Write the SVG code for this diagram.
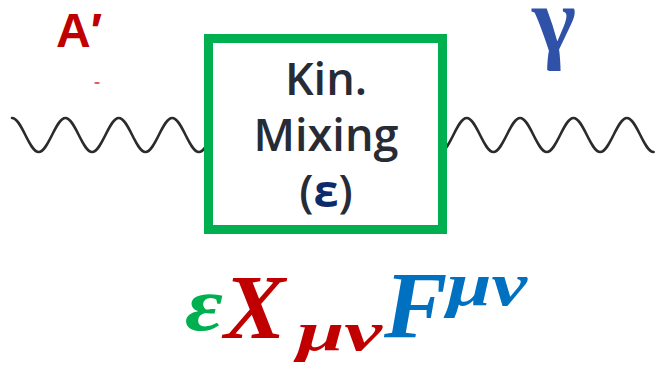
<svg xmlns="http://www.w3.org/2000/svg" width="656" height="370" viewBox="0 0 656 370">
<style>
.wave{fill:none;stroke:#2b2b2b;stroke-width:2.6;stroke-linecap:round}
.box{fill:#ffffff;stroke:#00b050;stroke-width:9}
.lbl{font-family:"Open Sans","Liberation Sans",sans-serif;font-weight:600;font-size:45px;fill:#262b35;text-anchor:middle}
.math{font-family:"Liberation Serif","DejaVu Serif",serif;font-weight:bold;font-style:italic}
</style>
<rect width="656" height="370" fill="#ffffff"/>
<g id="connectors">
<path class="wave" d="M12,118 c9.72,0 16.98,34 26.7,34 c9.72,0 16.98,-34 26.7,-34 c9.72,0 16.98,34 26.7,34 c9.72,0 16.98,-34 26.7,-34 c9.72,0 16.98,34 26.7,34 c9.72,0 16.98,-34 26.7,-34 c9.72,0 16.98,34 26.7,34 c9.72,0 16.98,-34 26.7,-34"/>
<path class="wave" d="M440,152 c9.72,0 16.98,-34 26.7,-34 c9.72,0 16.98,34 26.7,34 c9.72,0 16.98,-34 26.7,-34 c9.72,0 16.98,34 26.7,34 c9.72,0 16.98,-34 26.7,-34 c9.72,0 16.98,34 26.7,34 c9.72,0 16.98,-34 26.7,-34 c9.72,0 16.98,34 26.7,34"/>
</g>
<g id="aprime">
<text x="56" y="47" font-family="Liberation Sans,Arial,sans-serif" font-weight="bold" font-size="48" fill="#c00000">A′</text>
<ellipse cx="97" cy="83" rx="3" ry="1" fill="#e05050"/>
</g>
<g id="gamma">
<text x="554" y="51" font-family="Liberation Serif,DejaVu Serif,serif" font-weight="bold" font-size="94" fill="#2f52a8" text-anchor="middle">γ</text>
</g>
<g id="mixing">
<rect class="box" x="208.5" y="38.5" width="234" height="191"/>
<text class="lbl" x="326" y="95">Kin.</text>
<text class="lbl" x="326" y="151">Mixing</text>
<text class="lbl" x="326" y="207">(<tspan fill="#0d2a6b" font-weight="700">ε</tspan>)</text>
</g>
<g id="formula">
<text class="math" y="330" fill="#00b050" font-size="76" x="185" textLength="38" lengthAdjust="spacingAndGlyphs">ε</text>
<text class="math" y="338" fill="#c00000" font-size="92" x="224">X</text>
<text class="math" y="350" fill="#c00000" font-size="54" x="297" textLength="85" lengthAdjust="spacingAndGlyphs">μν</text>
<text class="math" y="338" fill="#0070c0" font-size="95" x="384">F</text>
<text class="math" y="305" fill="#0070c0" font-size="62" x="447" textLength="80" lengthAdjust="spacingAndGlyphs">μν</text>
</g>
</svg>
